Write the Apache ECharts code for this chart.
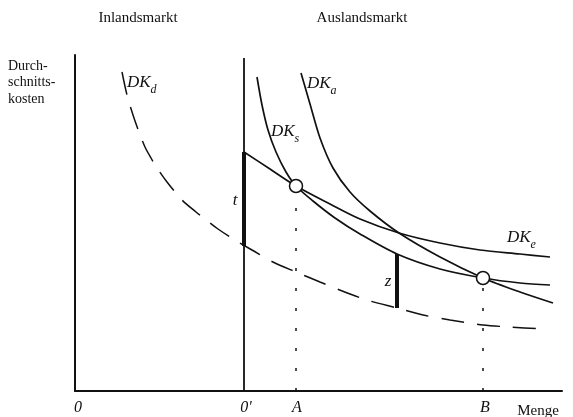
<!DOCTYPE html>
<html><head><meta charset="utf-8">
<script src="https://cdn.jsdelivr.net/npm/echarts@6/dist/echarts.min.js"></script>
<style>html,body{margin:0;padding:0;background:#fff}#c{width:573px;height:417px}</style>
</head><body><div id="c"></div>
<script>
// Quantity (x) and average cost (y) in arbitrary units
const dkdX = [47,52,58,64,70,76,82,92,107,121,130,143,163,177,198,221,245,275,295,322,348,375,408,435,468];
const dkdY = [319,296,276,259,244,233,223,209,191,179,172,162,149,141,129,119,109,97,90,83,76,71,66,64,62];
const dkaX = [226,235,245,258,275,295,324,365,408,445,478];
const dkaY = [318,287,253,223,199,180,158,134,113,99,88];
const dksX = [182,187,193,201,211,221,238,260,285,322,365,408,445,475];
const dksY = [314,286,261,239,219,205,190,173,157,137,122,113,108,106];
const dkeX = [169,195,221,255,285,324,365,405,445,475];
const dkeY = [239,222,205,187,172,158,148,141,137,134];
const originPrime = 169;      // 0'
const qA = 221, qB = 408;     // A, B
const costA = 205, costB = 113;
const tTop = 239, tBottom = 145;  // tariff bar at 0'
const zX = 322, zTop = 137, zBottom = 83;
const yTopPrime = 333;

const pairs = (xs, ys) => xs.map((x, i) => [x, ys[i]]);
const FONT = '"Liberation Serif", "DejaVu Serif", serif';
const chart = echarts.init(document.getElementById('c'));
const black = '#111';
const curve = (data, extra) => Object.assign({
  type: 'line', data, symbol: 'none', smooth: 0.3,
  lineStyle: { color: black, width: 1.7 }, silent: true, animation: false
}, extra || {});
const vline = (x, y0, y1, style) => ({
  type: 'line', data: [[x, y0], [x, y1]], symbol: 'none', silent: true, animation: false,
  lineStyle: Object.assign({ color: black, width: 1.7 }, style)
});
const richDK = {
  m: { fontFamily: FONT, fontStyle: 'italic', fontSize: 17, fill: black, verticalAlign: 'top', lineHeight: 17 },
  s: { fontFamily: FONT, fontStyle: 'italic', fontSize: 12, fill: black, verticalAlign: 'bottom', padding: [9, 0, 0, 0] }
};
const txt = (x, y, text, size, italic, align) => ({
  type: 'text', x, y, silent: true,
  style: { text, fontFamily: FONT, fontSize: size, fontStyle: italic ? 'italic' : 'normal',
           fill: black, textAlign: align || 'center', textVerticalAlign: 'middle' }
});
const dkLabel = (x, y, sub) => ({
  type: 'text', x, y, silent: true,
  style: { text: '{m|DK}{s|' + sub + '}', rich: richDK, textVerticalAlign: 'middle' }
});

chart.setOption({
  animation: false,
  grid: { left: 75, right: 11, top: 55, bottom: 26 },
  xAxis: { type: 'value', min: 0, max: 487, axisLine: { show: true, lineStyle: { color: black, width: 2 } },
           axisTick: { show: false }, axisLabel: { show: false }, splitLine: { show: false } },
  yAxis: { type: 'value', min: 0, max: 336, axisLine: { show: true, lineStyle: { color: black, width: 2 } },
           axisTick: { show: false }, axisLabel: { show: false }, splitLine: { show: false } },
  series: [
    curve(pairs(dkdX, dkdY), { lineStyle: { color: black, width: 1.5, type: [23, 13] } }),
    curve(pairs(dkaX, dkaY)),
    curve(pairs(dksX, dksY)),
    curve(pairs(dkeX, dkeY)),
    vline(originPrime, 0, yTopPrime, { width: 1.8 }),
    vline(originPrime, tBottom, tTop, { width: 4 }),
    vline(zX, zBottom, zTop, { width: 4 }),
    vline(qA, 0, costA - 7, { width: 1.5, type: [3, 17] }),
    vline(qB, 0, costB - 7, { width: 1.5, type: [3, 17] }),
    { type: 'scatter', data: [[qA, costA], [qB, costB]], symbol: 'circle', symbolSize: 13, silent: true,
      itemStyle: { color: '#fff', borderColor: black, borderWidth: 1.5, opacity: 1 }, z: 5 }
  ],
  graphic: [
    txt(138, 18, 'Inlandsmarkt', 15),
    txt(362, 18, 'Auslandsmarkt', 15),
    txt(8, 66, 'Durch-', 14, false, 'left'),
    txt(8, 82, 'schnitts-', 14, false, 'left'),
    txt(8, 99, 'kosten', 14, false, 'left'),
    txt(78, 408, '0', 16, true),
    txt(246, 408, '0\u2032', 16, true),
    txt(297, 408, 'A', 16, true),
    txt(485, 408, 'B', 16, true),
    txt(538, 411, 'Menge', 15),
    txt(235, 201, 't', 17, true),
    txt(388, 282, 'z', 17, true),
    dkLabel(127, 85, 'd'),
    dkLabel(307, 86, 'a'),
    dkLabel(271, 134, 's'),
    dkLabel(507, 240, 'e')
  ]
});
</script></body></html>
